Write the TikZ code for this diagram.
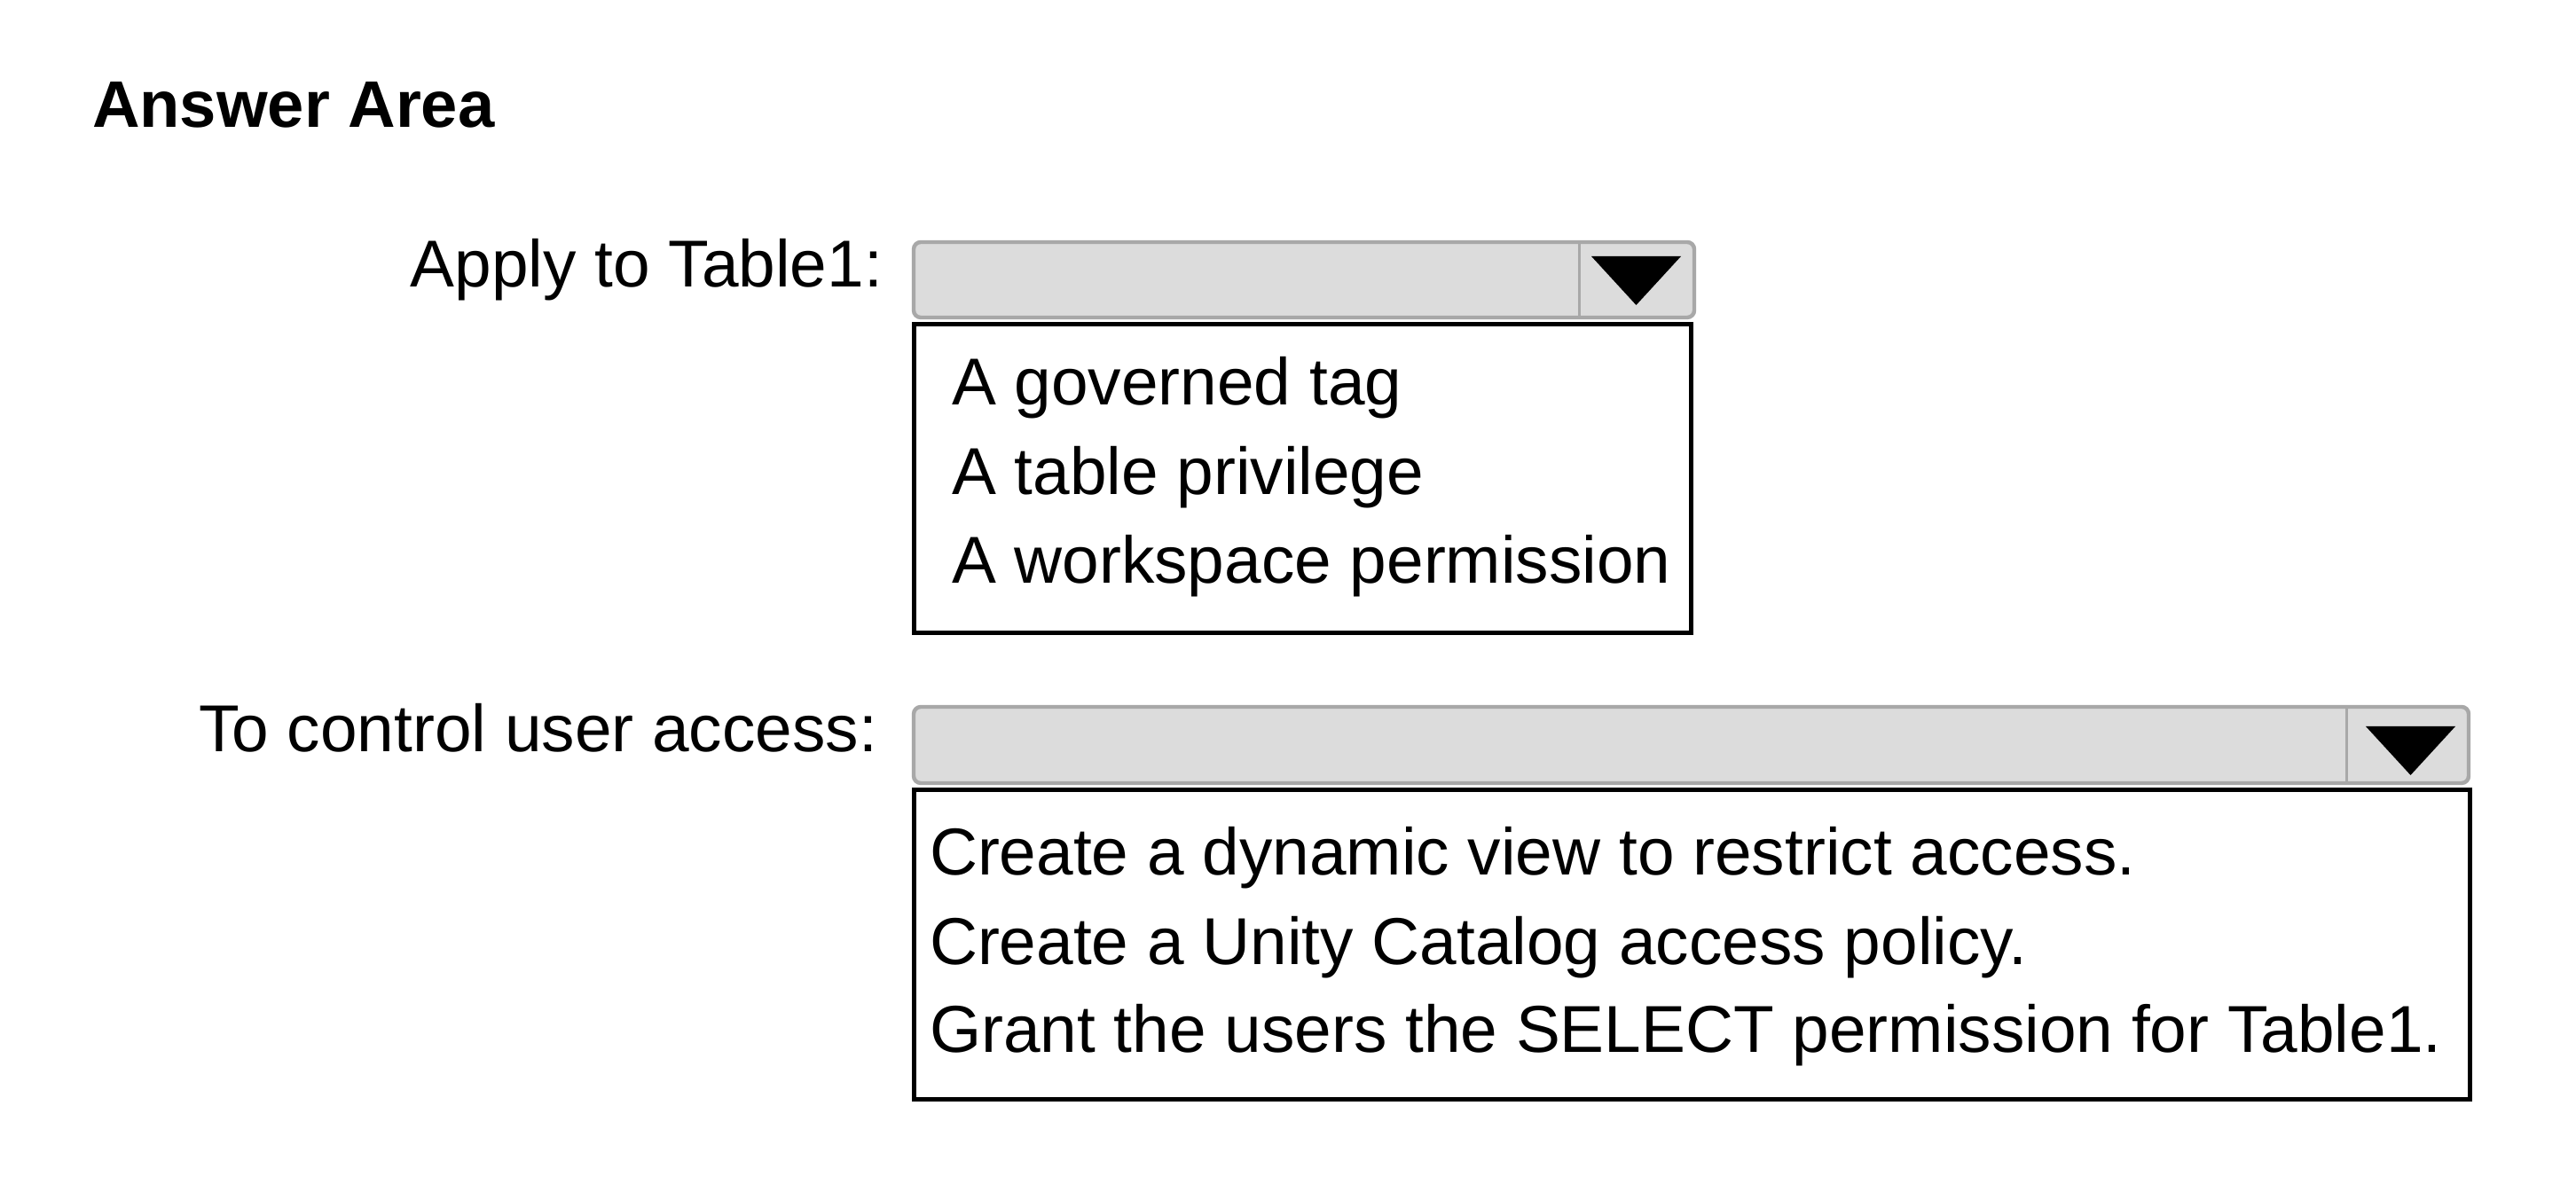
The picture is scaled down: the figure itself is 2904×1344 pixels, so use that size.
\documentclass[tikz,border=0pt]{standalone}
\usepackage{fontspec}
\setmainfont{Liberation Sans}
\usepackage{tikz}
\usetikzlibrary{arrows}

\definecolor{boxgray}{HTML}{DCDCDC}
\definecolor{linegray}{HTML}{A8A8A8}

\begin{document}
\begin{tikzpicture}[x=0.25pt, y=-0.25pt, font=\fontsize{18.7}{22}\selectfont]

\useasboundingbox (0,0) rectangle (2904,1344);

\tikzset{
  dropbox/.style={draw=linegray, fill=boxgray, line width=1.1pt, rounded corners=2pt, inner sep=0pt},
  listbox/.style={draw=black, line width=1.25pt, inner sep=0pt},
  divider/.style={draw=linegray, line width=0.75pt}
}

\path [every node/.style={inner sep=0pt, outer sep=0pt}]
  node[anchor=base west, font=\fontsize{18.55}{22}\selectfont\bfseries] (title) at (104,144) {Answer Area}
  node[anchor=base east] (label1) at (995,324) {Apply to Table1:}
  node[dropbox, minimum width=220pt, minimum height=21.25pt] (drop1) at (1470,315.5) {}
  node[listbox, minimum width=219pt, minimum height=87pt] (list1) at (1468.5,539.5) {}
  node[anchor=base west] (opt11) at (1073,457) {A governed tag}
  node[anchor=base west] (opt12) at (1073,558) {A table privilege}
  node[anchor=base west] (opt13) at (1073,658) {A workspace permission}
  node[anchor=base east] (label2) at (989,848) {To control user access:}
  node[dropbox, minimum width=438.25pt, minimum height=21.5pt] (drop2) at (1906.5,840) {}
  node[listbox, minimum width=438.5pt, minimum height=87.25pt] (list2) at (1907.5,1065) {}
  node[anchor=base west] (opt21) at (1048,987) {Create a dynamic view to restrict access.}
  node[anchor=base west] (opt22) at (1048,1088) {Create a Unity Catalog access policy.}
  node[anchor=base west] (opt23) at (1048,1187) {Grant the users the SELECT permission for Table1.};

\coordinate (cut1) at (1780,0);
\coordinate (cut2) at (2645,0);

\begin{scope}
	% Separador
	\draw[divider] (drop1.north -| cut1) -- (drop1.south -| cut1);
	\draw[divider] (drop2.north -| cut2) -- (drop2.south -| cut2);
	% Flechas
	\fill (1794,289) -- (1895,289) -- (1844.5,344) -- cycle;
	\fill (2667,819) -- (2768,819) -- (2717.5,874) -- cycle;
\end{scope}

\end{tikzpicture}
\end{document}
